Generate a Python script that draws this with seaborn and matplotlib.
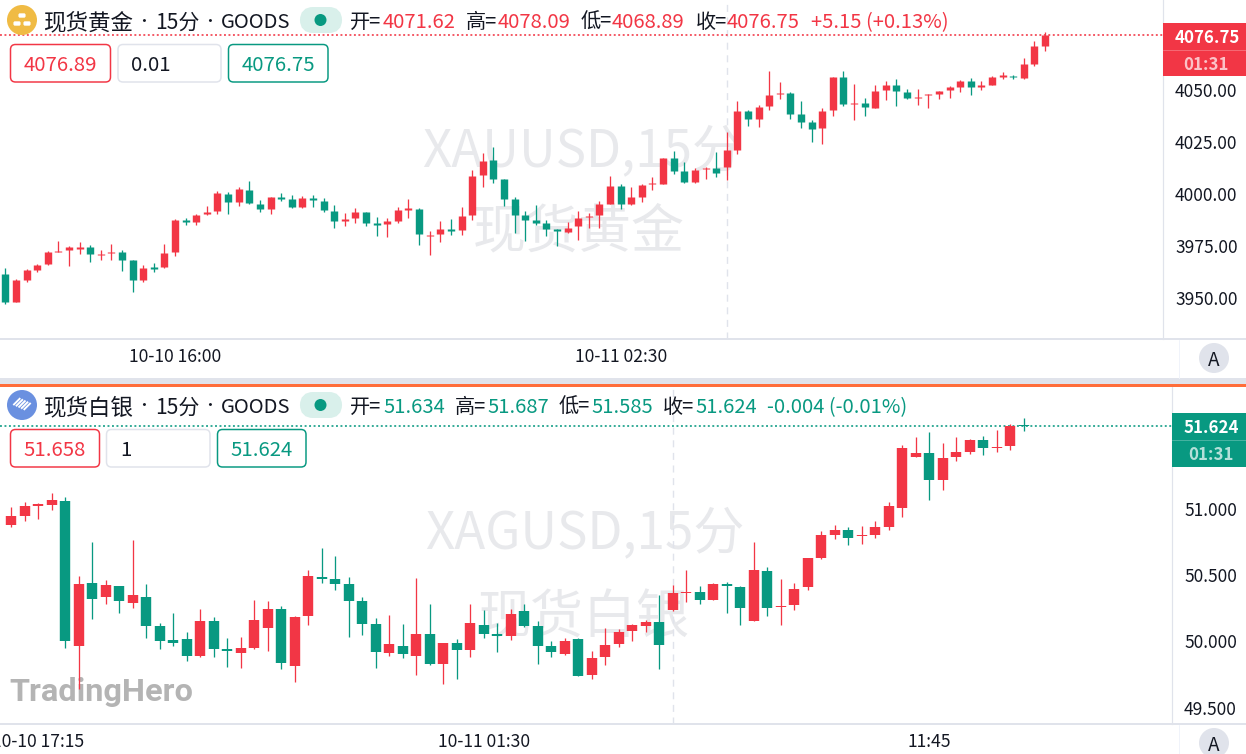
import matplotlib
import pandas as pd
import seaborn as sns
from matplotlib import pyplot as plt
from matplotlib.patches import Circle, FancyBboxPatch, Rectangle

matplotlib.use("Agg")

gold_open = [
    3961.9, 3948.4, 3959.0, 3963.5, 3966.4, 3972.1, 3973.1, 3973.9, 3974.7, 3970.8,
    3971.8, 3972.3, 3968.3, 3958.7, 3964.9, 3964.9, 3972.1, 3987.8, 3986.7, 3990.7,
    3992.0, 4000.3, 3996.5, 4002.3, 3995.4, 3993.0, 3998.7, 3997.8, 3993.8, 3998.2,
    3996.8, 3992.2, 3987.3, 3988.5, 3991.4, 3986.1, 3985.6, 3987.2, 3992.6, 3993.1,
    3980.1, 3980.8, 3983.2, 3982.7, 3990.1, 4009.3, 4016.4, 4007.4, 3997.8, 3989.9,
    3987.7, 3986.2, 3983.2, 3982.1, 3984.6, 3989.1, 3990.1, 3995.5, 4004.0, 3995.4,
    3999.0, 4004.8, 4005.1, 4017.3, 4011.4, 4005.8, 4012.2, 4012.7, 4013.0, 4021.5,
    4039.9, 4036.5, 4042.3, 4048.1, 4048.7, 4038.5, 4034.6, 4031.9, 4040.6, 4056.6,
    4043.3, 4043.8, 4041.8, 4050.0, 4052.7, 4049.2, 4046.3, 4047.8, 4048.1, 4050.0,
    4051.8, 4054.7, 4051.8, 4052.7, 4056.7, 4057.1, 4055.9, 4062.8, 4071.62,
]
gold_high = [
    3964.6, 3959.3, 3964.1, 3966.7, 3972.8, 3977.6, 3975.3, 3976.9, 3975.8, 3973.4,
    3976.3, 3973.4, 3968.4, 3966.2, 3967.0, 3976.3, 3988.1, 3988.8, 3990.6, 3994.6,
    4001.6, 4001.3, 4003.5, 4006.4, 3997.4, 3999.0, 4000.6, 3999.7, 3999.4, 3999.7,
    3998.4, 3995.0, 3991.0, 3993.4, 3991.8, 3989.4, 3988.6, 3994.2, 3997.8, 3993.3,
    3982.4, 3987.0, 3988.3, 3993.9, 4011.9, 4019.9, 4022.8, 4007.5, 3998.7, 3992.0,
    3995.0, 3987.8, 3983.3, 3986.7, 3992.0, 3991.0, 3997.0, 4009.0, 4004.8, 4003.7,
    4004.8, 4008.3, 4017.6, 4021.0, 4015.4, 4012.7, 4013.0, 4020.5, 4030.1, 4044.9,
    4040.6, 4043.0, 4059.5, 4054.2, 4049.2, 4044.9, 4035.7, 4041.4, 4056.7, 4059.3,
    4053.1, 4046.5, 4052.6, 4054.7, 4055.5, 4050.7, 4050.7, 4048.2, 4049.8, 4052.3,
    4055.1, 4055.9, 4054.7, 4056.9, 4059.1, 4057.4, 4065.4, 4073.6, 4078.09,
]
gold_low = [
    3947.1, 3948.4, 3957.7, 3962.5, 3966.0, 3972.1, 3965.7, 3971.5, 3967.6, 3968.3,
    3968.6, 3963.0, 3952.9, 3957.7, 3962.5, 3964.4, 3970.2, 3985.4, 3985.3, 3990.1,
    3990.4, 3990.7, 3994.6, 3995.4, 3991.4, 3990.7, 3996.8, 3993.3, 3993.3, 3994.2,
    3991.4, 3983.7, 3984.9, 3986.5, 3984.6, 3980.1, 3979.5, 3986.2, 3988.6, 3975.5,
    3970.7, 3977.1, 3980.3, 3980.6, 3987.8, 4003.4, 4005.3, 3994.6, 3981.6, 3977.6,
    3985.4, 3979.8, 3975.0, 3981.4, 3978.2, 3983.7, 3984.1, 3995.4, 3993.0, 3994.7,
    3996.2, 4002.1, 4005.0, 4009.6, 4005.7, 4005.7, 4007.5, 4008.2, 4007.1, 4019.6,
    4032.7, 4032.5, 4040.6, 4046.0, 4036.4, 4032.1, 4025.0, 4024.5, 4037.5, 4042.3,
    4035.9, 4037.8, 4041.4, 4045.5, 4042.6, 4045.7, 4042.8, 4041.4, 4046.0, 4046.3,
    4049.5, 4047.9, 4050.3, 4052.4, 4055.5, 4055.3, 4055.5, 4062.0, 4068.89,
]
gold_close = [
    3948.1, 3959.0, 3963.5, 3966.0, 3972.1, 3972.6, 3974.7, 3974.5, 3971.2, 3971.3,
    3972.4, 3968.6, 3959.0, 3964.7, 3964.3, 3971.8, 3987.8, 3986.9, 3990.2, 3991.8,
    4000.5, 3996.3, 4002.4, 3995.8, 3993.1, 3998.7, 3997.9, 3993.9, 3998.2, 3997.3,
    3992.3, 3987.0, 3988.1, 3991.4, 3986.2, 3985.4, 3987.0, 3992.3, 3993.3, 3980.8,
    3980.6, 3983.2, 3982.5, 3989.6, 4009.0, 4016.2, 4007.4, 3997.9, 3990.1, 3987.8,
    3986.4, 3983.3, 3982.2, 3984.1, 3988.8, 3989.8, 3995.5, 4003.9, 3995.2, 3998.9,
    4004.7, 4005.3, 4017.5, 4011.4, 4005.8, 4011.9, 4012.7, 4010.4, 4021.3, 4039.9,
    4036.5, 4042.0, 4047.8, 4048.7, 4038.8, 4034.9, 4031.7, 4040.2, 4056.6, 4043.6,
    4043.8, 4042.2, 4049.8, 4052.7, 4049.8, 4046.2, 4047.1, 4048.1, 4049.7, 4051.6,
    4054.7, 4051.9, 4052.4, 4056.4, 4057.2, 4056.3, 4062.7, 4071.2, 4076.75,
]

silver_open = [
    50.754, 50.879, 50.947, 51.023, 51.028, 51.060, 49.965, 50.442, 50.334, 50.414,
    50.291, 50.337, 50.116, 50.008, 50.018, 49.889, 50.151, 49.940, 49.912, 49.950,
    50.098, 50.241, 49.814, 50.191, 50.487, 50.472, 50.430, 50.304, 50.128, 49.915,
    49.967, 49.892, 50.053, 49.832, 49.990, 49.937, 50.123, 50.055, 50.038, 50.226,
    50.113, 49.965, 49.904, 50.018, 49.744, 49.879, 49.977, 50.078, 50.113, 50.148,
    50.234, 50.362, 50.369, 50.314, 50.430, 50.412, 50.153, 50.533, 50.261, 50.274,
    50.407, 50.626, 50.799, 50.837, 50.791, 50.801, 50.859, 51.008, 51.392, 51.422,
    51.216, 51.387, 51.430, 51.518, 51.457, 51.470, 51.634,
]
silver_high = [
    50.894, 51.015, 51.053, 51.040, 51.116, 51.090, 50.492, 50.746, 50.462, 50.417,
    50.764, 50.432, 50.136, 50.216, 50.070, 50.241, 50.181, 50.025, 50.030, 50.309,
    50.306, 50.266, 50.191, 50.538, 50.706, 50.643, 50.487, 50.337, 50.173, 50.198,
    50.131, 50.477, 50.281, 49.988, 50.020, 50.281, 50.234, 50.141, 50.244, 50.281,
    50.151, 50.000, 50.023, 50.023, 49.927, 50.098, 50.090, 50.128, 50.158, 50.349,
    50.427, 50.538, 50.417, 50.440, 50.450, 50.415, 50.749, 50.560, 50.470, 50.437,
    50.628, 50.832, 50.874, 50.862, 50.872, 50.905, 51.053, 51.477, 51.538, 51.578,
    51.492, 51.543, 51.523, 51.548, 51.593, 51.641, 51.687,
]
silver_low = [
    50.749, 50.859, 50.907, 50.920, 50.990, 49.952, 49.638, 50.171, 50.281, 50.211,
    50.251, 50.025, 49.942, 49.965, 49.854, 49.885, 49.884, 49.809, 49.799, 49.940,
    49.925, 49.794, 49.691, 50.123, 50.442, 50.387, 50.035, 50.048, 49.801, 49.889,
    49.874, 49.744, 49.824, 49.676, 49.713, 49.884, 50.028, 49.922, 50.013, 50.108,
    49.827, 49.879, 49.894, 49.736, 49.719, 49.819, 49.960, 50.002, 50.073, 49.789,
    50.230, 50.299, 50.281, 50.309, 50.216, 50.123, 50.150, 50.193, 50.126, 50.236,
    50.389, 50.618, 50.769, 50.729, 50.731, 50.776, 50.842, 50.940, 51.387, 51.068,
    51.143, 51.359, 51.410, 51.402, 51.425, 51.442, 51.585,
]
silver_close = [
    50.882, 50.945, 51.018, 51.033, 51.063, 50.002, 50.432, 50.316, 50.422, 50.306,
    50.352, 50.116, 50.002, 49.987, 49.889, 50.151, 49.940, 49.930, 49.950, 50.161,
    50.244, 49.837, 50.183, 50.495, 50.472, 50.435, 50.306, 50.133, 49.917, 49.980,
    49.902, 50.055, 49.829, 49.985, 49.937, 50.141, 50.053, 50.040, 50.206, 50.116,
    49.967, 49.917, 50.002, 49.741, 49.872, 49.970, 50.070, 50.121, 50.148, 49.970,
    50.364, 50.372, 50.314, 50.432, 50.417, 50.251, 50.535, 50.249, 50.269, 50.397,
    50.626, 50.799, 50.837, 50.779, 50.799, 50.864, 51.018, 51.460, 51.420, 51.214,
    51.379, 51.427, 51.520, 51.457, 51.465, 51.626, 51.624,
]

gold_ticks = [3950, 3975, 4000, 4025, 4050]
silver_ticks = [49.5, 50.0, 50.5, 51.0]
gold_time_bars = [16, 58]
gold_time_labels = ["10-10 16:00", "10-11 02:30"]
silver_time_bars = [3, 36, 69]
silver_time_labels = ["10-10 17:15", "10-11 01:30", "11:45"]

WIDTH, HEIGHT = 1246, 754
UP = "#f23645"
DOWN = "#089981"
LINE = "#e0e3eb"
INK = "#131722"
MARK = "#e8e9ec"
PX = 0.72  # points per pixel at dpi 100


def candle_frames(opens, highs, lows, closes):
    rows = pd.DataFrame({"open": opens, "high": highs, "low": lows, "close": closes})
    rows["bar"] = rows.index
    rows["direction"] = ["up" if c >= o else "down" for o, c in zip(rows["open"], rows["close"])]
    wicks = rows.melt(id_vars=["bar", "direction"], value_vars=["high", "low"], value_name="price")
    bodies = rows.melt(id_vars=["bar", "direction"], value_vars=["open", "close"], value_name="price")
    return wicks, bodies


def px_axes(fig, left, top, right, bottom):
    return fig.add_axes([left / WIDTH, 1 - bottom / HEIGHT, (right - left) / WIDTH, (bottom - top) / HEIGHT])


def draw_panel(ax, ohlc, ylim, xlim, body_px, ticks, tick_fmt, time_bars, time_labels, now_bar, last_color):
    wicks, bodies = candle_frames(*ohlc)
    palette = {"up": UP, "down": DOWN}
    ax.axvline(now_bar, color=LINE, linewidth=1.4 * PX, linestyle=(0, (5, 4)), zorder=1)
    ax.axhline(ohlc[3][-1], color=last_color, linewidth=1.6 * PX, linestyle=(0, (1.2, 1.6)), zorder=1)
    for frame, width in [(wicks, 1.3), (bodies, body_px)]:
        sns.lineplot(
            data=frame, x="bar", y="price", units="bar", hue="direction", palette=palette,
            estimator=None, legend=False, linewidth=width * PX, solid_capstyle="butt", ax=ax, zorder=2,
        )
    ax.set_xlim(*xlim)
    ax.set_ylim(*ylim)
    ax.set(xlabel="", ylabel="")
    ax.patch.set_alpha(0)
    ax.yaxis.tick_right()
    ax.set_yticks(ticks, [tick_fmt.format(t) for t in ticks])
    ax.set_xticks(time_bars, time_labels)
    ax.tick_params(axis="y", length=0, pad=12 * PX, labelsize=17.4 * PX, labelcolor=INK)
    ax.tick_params(axis="x", length=0, pad=9 * PX, labelsize=17.5 * PX, labelcolor=INK)
    sns.despine(ax=ax, left=True, top=True, right=False, bottom=False)
    ax.spines["right"].set_color(LINE)
    ax.spines["right"].set_linewidth(1.2 * PX)
    ax.spines["bottom"].set_color(LINE)
    ax.spines["bottom"].set_linewidth(2 * PX)


def header(ax, y, name, icon_color, values, change, color):
    ax.add_patch(Circle((22, y), 15, color=icon_color, lw=0))
    ax.text(43, y, name, fontsize=22.5 * PX, color=INK, va="center_baseline")
    ax.text(144, y, "•", fontsize=15 * PX, color=INK, ha="center", va="center_baseline")
    ax.text(155, y, "15分", fontsize=21 * PX, color=INK, va="center_baseline")
    ax.text(210, y, "•", fontsize=15 * PX, color=INK, ha="center", va="center_baseline")
    ax.text(221, y, "GOODS", fontsize=20.2 * PX, color=INK, va="center_baseline")
    ax.add_patch(FancyBboxPatch((306, y - 7), 30, 14, boxstyle="round,pad=0,rounding_size=7",
                                mutation_aspect=1, fc="#d9f0eb", ec="#d9f0eb", lw=12 * PX))
    ax.add_patch(Circle((320.5, y), 6, color=DOWN, lw=0))
    for lab_x, val_x, lab, val in values:
        ax.text(lab_x, y, lab, fontsize=20.2 * PX, color=INK, va="center_baseline")
        ax.text(val_x, y, val, fontsize=20.2 * PX, color=color, va="center_baseline")
    ax.text(change[0], y, change[1], fontsize=20.2 * PX, color=color, va="center_baseline")


def gold_icon(ax, cx, cy):
    for dx, dy in [(0, -4.5), (-5, 3.5), (5, 3.5)]:
        ax.add_patch(FancyBboxPatch((cx + dx - 3.2, cy + dy - 1.8), 6.4, 3.6, boxstyle="round,pad=0,rounding_size=1",
                                    fc="white", ec="white", lw=0.4))


def silver_icon(ax, cx, cy):
    for shift in range(-2, 3):
        sx = cx + shift * 2.6
        sy = cy + shift * 1.2
        ax.plot([sx - 3.5, sx + 3.5], [sy + 3.5, sy - 3.5], color="white", lw=1.9 * PX, solid_capstyle="butt")


def input_box(ax, left, right, top, bottom, text, color, edge, text_x=None):
    ax.add_patch(FancyBboxPatch((left, top), right - left, bottom - top, boxstyle="round,pad=0,rounding_size=5",
                                fc="white", ec=edge, lw=1.5 * PX))
    mid = (top + bottom) / 2
    if text_x is None:
        ax.text((left + right) / 2, mid, text, fontsize=20.4 * PX, color=color, ha="center", va="center_baseline")
    else:
        ax.text(text_x, mid, text, fontsize=20.4 * PX, color=color, va="center_baseline")


def price_tag(ax, left, top, mid, bottom, price, color):
    ax.add_patch(Rectangle((left, top), WIDTH - left, bottom - top, color=color, lw=0))
    ax.plot([left, WIDTH], [mid, mid], color="white", alpha=0.25, lw=1 * PX)
    center = (left + 1239) / 2 + 6
    ax.text(center, (top + mid) / 2, price, fontsize=16.8 * PX, color="white", weight="bold",
            ha="center", va="center_baseline")
    ax.text(center - 1, (mid + bottom) / 2, "01:31", fontsize=16.8 * PX, color="white", alpha=0.7,
            weight="bold", ha="center", va="center_baseline")


def auto_button(ax, y):
    ax.plot([1179, 1179], [y - 18, y + 20], color="#f0f3fa", lw=1 * PX)
    ax.add_patch(Circle((1214, y), 15, color=LINE, lw=0))
    ax.text(1214, y, "A", fontsize=19 * PX, color=INK, ha="center", va="center_baseline")


def make_plot():
    sns.set_theme(style="white")
    plt.rcParams["font.family"] = ["Noto Sans CJK SC", "DejaVu Sans"]
    fig = plt.figure(figsize=(WIDTH / 100, HEIGHT / 100), dpi=100, facecolor="white")

    back = px_axes(fig, 0, 0, WIDTH, HEIGHT)
    back.set_zorder(0)
    back.set_xlim(0, WIDTH)
    back.set_ylim(HEIGHT, 0)
    back.axis("off")
    for x, y, text, size in [
        (422, 145, "XAUUSD,15分", 51),
        (473, 226, "现货黄金", 53),
        (425, 527, "XAGUSD,15分", 51),
        (478, 612, "现货白银", 53),
    ]:
        back.text(x, y, text, fontsize=size * PX, color=MARK, va="center_baseline")
    back.text(9, 689, "TradingHero", fontsize=32.5 * PX, color="#b4b4b4", weight="bold",
              family="Roboto", va="center_baseline")

    gold_ax = px_axes(fig, 0, 0, 1163, 339)
    gold_ax.set_zorder(1)
    draw_panel(
        gold_ax, (gold_open, gold_high, gold_low, gold_close), (3930.5, 4093.5), (-0.5, 109.12), 7.4,
        gold_ticks, "{:.2f}", gold_time_bars, gold_time_labels, 68, UP,
    )
    silver_ax = px_axes(fig, 0, 386, 1172, 724)
    silver_ax.set_zorder(1)
    draw_panel(
        silver_ax, (silver_open, silver_high, silver_low, silver_close), (49.377, 51.925), (0.163, 86.98), 10.4,
        silver_ticks, "{:.3f}", silver_time_bars, silver_time_labels, 50, DOWN,
    )

    top = px_axes(fig, 0, 0, WIDTH, HEIGHT)
    top.set_zorder(2)
    top.set_xlim(0, WIDTH)
    top.set_ylim(HEIGHT, 0)
    top.axis("off")

    top.add_patch(Rectangle((0, 377.7), WIDTH, 6, color=LINE, lw=0))
    top.add_patch(Rectangle((0, 383.7), WIDTH, 2.8, color="#ff6d3a", lw=0))
    top.plot([1163, WIDTH], [339, 339], color=LINE, lw=2 * PX)
    top.plot([1172, WIDTH], [724, 724], color=LINE, lw=2 * PX)

    header(top, 20, "现货黄金", "#f0bb44", [
        (350, 383, "开=", f"{gold_open[-1]:.2f}"),
        (466, 498, "高=", f"{gold_high[-1]:.2f}"),
        (581, 612, "低=", f"{gold_low[-1]:.2f}"),
        (696, 727, "收=", f"{gold_close[-1]:.2f}"),
    ], (811, "+5.15 (+0.13%)"), UP)
    gold_icon(top, 22, 20)
    header(top, 405, "现货白银", "#6a90e0", [
        (350, 383, "开=", f"{silver_open[-1]:.3f}"),
        (455, 487, "高=", f"{silver_high[-1]:.3f}"),
        (559, 591, "低=", f"{silver_low[-1]:.3f}"),
        (663, 695, "收=", f"{silver_close[-1]:.3f}"),
    ], (767, "-0.004 (-0.01%)"), DOWN)
    silver_icon(top, 22, 404)

    input_box(top, 10.5, 110.5, 44.5, 82, "4076.89", UP, UP)
    input_box(top, 118, 221, 44.5, 82, "0.01", INK, LINE, text_x=131)
    input_box(top, 228.5, 328, 44.5, 82, f"{gold_close[-1]:.2f}", DOWN, DOWN)
    input_box(top, 10.5, 99.5, 429.5, 467, "51.658", UP, UP)
    input_box(top, 106.5, 210, 429.5, 467, "1", INK, LINE, text_x=120)
    input_box(top, 217.5, 306, 429.5, 467, f"{silver_close[-1]:.3f}", DOWN, DOWN)

    price_tag(top, 1163, 22.5, 49.5, 76, f"{gold_close[-1]:.2f}", UP)
    price_tag(top, 1172, 412.5, 439.5, 466.5, f"{silver_close[-1]:.3f}", DOWN)
    auto_button(top, 358)
    auto_button(top, 743)

    fig.savefig("out.png", dpi=100)
    plt.close(fig)


if __name__ == "__main__":
    make_plot()
